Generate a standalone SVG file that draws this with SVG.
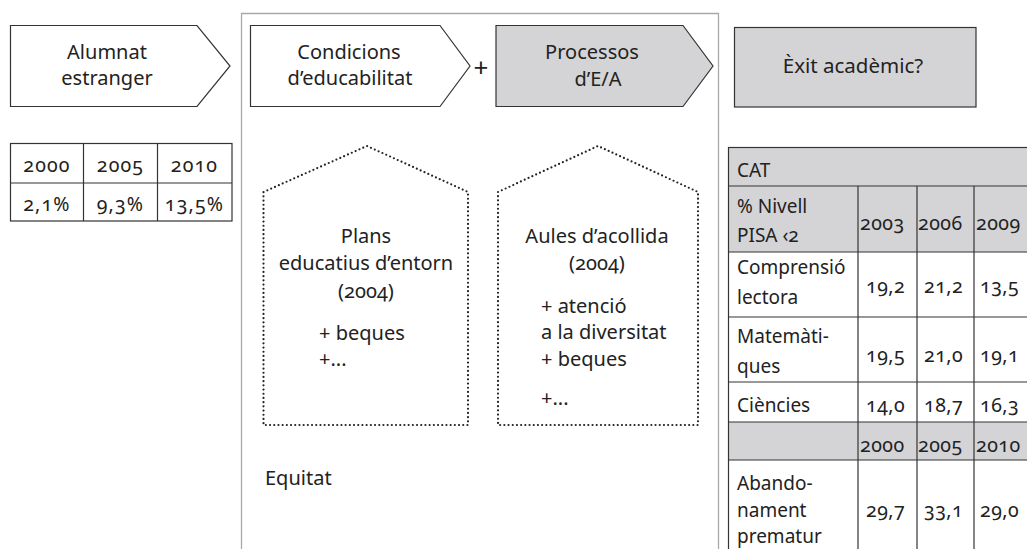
<svg xmlns="http://www.w3.org/2000/svg" width="1027" height="549" viewBox="0 0 1027 549">
<style>
text{font-family:"Noto Sans","Open Sans","Liberation Sans",sans-serif;font-size:19px;fill:#222;font-variant-numeric:oldstyle-nums;font-feature-settings:"onum"}
.c{text-anchor:middle}
.shape{stroke:#333;stroke-width:1.2}
.w{fill:#fff}
.g{fill:#d4d4d6}
.dot{fill:none;stroke:#222;stroke-width:2.2;stroke-linecap:round;stroke-dasharray:0 4.2}
.grid{stroke:#333;stroke-width:1.2;fill:none}
.big{font-size:20px}
.h{font-size:20px}
.n{font-size:19.5px;letter-spacing:0.5px}
.t{font-size:19.5px;letter-spacing:1.2px}
.plus{font-size:26px}
.ex{font-size:20.5px}
</style>
<rect width="1027" height="549" fill="#fff"/>
<g id="container">
<path d="M241.5,549 V13.5 H718.5 V549" fill="none" stroke="#a8a8a8" stroke-width="1.3"/>
</g>
<g id="alumnat">
<polygon class="shape w" points="10.5,25.5 197,25.5 230,66 197,106.5 10.5,106.5"/>
<text class="c big" x="107" y="59">Alumnat</text>
<text class="c big" x="107" y="85">estranger</text>
</g>
<g id="condicions">
<polygon class="shape w" points="250.5,25.5 440,25.5 470,66 440,106.5 250.5,106.5"/>
<text class="c big" x="349" y="59">Condicions</text>
<text class="c big" x="350" y="85">d’educabilitat</text>
</g>
<g id="plus"><text class="c plus" x="481" y="77">+</text></g>
<g id="processos">
<polygon class="shape g" points="496,25.5 683,25.5 713,66 683,106.5 496,106.5"/>
<text class="c big" x="592" y="59">Processos</text>
<text class="c big" x="598" y="86">d’E/A</text>
</g>
<g id="exit">
<rect class="shape g" x="734.5" y="27.5" width="241.5" height="79.5"/>
<text class="c ex" x="853" y="73">Èxit acadèmic?</text>
</g>
<g id="taula-alumnat">
<rect class="grid" x="10.5" y="143.5" width="221.5" height="77.5"/>
<line class="grid" x1="10.5" y1="183" x2="232" y2="183"/>
<line class="grid" x1="83.5" y1="143.5" x2="83.5" y2="221"/>
<line class="grid" x1="157.5" y1="143.5" x2="157.5" y2="221"/>
<text class="c t" x="47" y="172">2000</text>
<text class="c t" x="120.5" y="172">2005</text>
<text class="c t" x="194.5" y="172">2010</text>
<text class="c t" x="47" y="211">2,1%</text>
<text class="c t" x="120.5" y="211">9,3%</text>
<text class="c t" x="194.5" y="211">13,5%</text>
</g>
<g id="plans">
<polygon class="dot" points="263.5,192 367,146 468,192 468,425 263.5,425"/>
<text class="c h" x="366" y="243">Plans</text>
<text class="c h" x="366" y="270">educatius d’entorn</text>
<text class="c h" x="366" y="298">(2004)</text>
<text class="h" x="319" y="340">+ beques</text>
<text class="h" x="319" y="366">+...</text>
</g>
<g id="aules">
<polygon class="dot" points="498,192 598,146 698,192 698,425 498,425"/>
<text class="c h" x="597" y="243">Aules d’acollida</text>
<text class="c h" x="597" y="270">(2004)</text>
<text class="h" x="541" y="313">+ atenció</text>
<text class="h" x="541" y="339">a la diversitat</text>
<text class="h" x="541" y="366">+ beques</text>
<text class="h" x="541" y="405">+...</text>
</g>
<g id="equitat">
<text class="h" x="265" y="485">Equitat</text>
</g>
<g id="taula-cat">
<rect class="g" x="728.5" y="147.5" width="310" height="104.5"/>
<rect class="g" x="728.5" y="422" width="310" height="38"/>
<rect class="grid" x="728.5" y="147.5" width="310" height="420"/>
<line class="grid" x1="728.5" y1="186" x2="1030" y2="186"/>
<line class="grid" x1="728.5" y1="252" x2="1030" y2="252"/>
<line class="grid" x1="728.5" y1="317" x2="1030" y2="317"/>
<line class="grid" x1="728.5" y1="382" x2="1030" y2="382"/>
<line class="grid" x1="728.5" y1="422" x2="1030" y2="422"/>
<line class="grid" x1="728.5" y1="460" x2="1030" y2="460"/>
<line class="grid" x1="858" y1="186" x2="858" y2="549"/>
<line class="grid" x1="917" y1="186" x2="917" y2="549"/>
<line class="grid" x1="974" y1="186" x2="974" y2="549"/>
<text x="737" y="177">CAT</text>
<text x="737" y="213">% Nivell</text>
<text x="737" y="242">PISA ‹2</text>
<text class="n" x="860" y="230">2003</text>
<text class="n" x="918" y="230">2006</text>
<text class="n" x="976" y="230">2009</text>
<text x="737" y="274">Comprensió</text>
<text x="737" y="304">lectora</text>
<text class="n" x="866" y="293">19,2</text>
<text class="n" x="924" y="293">21,2</text>
<text class="n" x="980" y="293">13,5</text>
<text x="737" y="343">Matemàti-</text>
<text x="737" y="373">ques</text>
<text class="n" x="866" y="362">19,5</text>
<text class="n" x="924" y="362">21,0</text>
<text class="n" x="980" y="362">19,1</text>
<text x="737" y="412">Ciències</text>
<text class="n" x="866" y="412">14,0</text>
<text class="n" x="924" y="412">18,7</text>
<text class="n" x="980" y="412">16,3</text>
<text class="n" x="860" y="452">2000</text>
<text class="n" x="918" y="452">2005</text>
<text class="n" x="976" y="452">2010</text>
<text x="737" y="490">Abando-</text>
<text x="737" y="517">nament</text>
<text x="737" y="543">prematur</text>
<text class="n" x="866" y="517">29,7</text>
<text class="n" x="924" y="517">33,1</text>
<text class="n" x="980" y="517">29,0</text>
</g>
</svg>
